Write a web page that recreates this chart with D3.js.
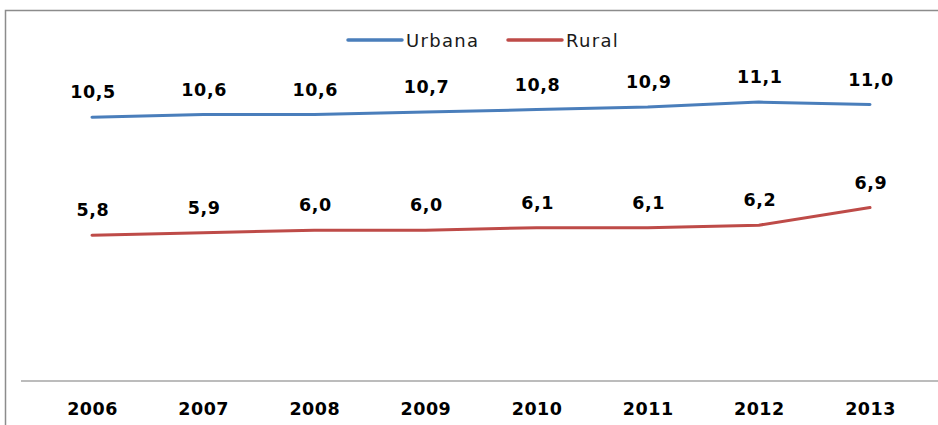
<!DOCTYPE html>
<html>
<head>
<meta charset="utf-8">
<script src="https://cdn.jsdelivr.net/npm/d3@7"></script>
<style>
  html, body { margin: 0; padding: 0; background: #fff; }
  svg { display: block; }
</style>
</head>
<body>
<svg id="chart" width="938" height="425"></svg>
<script>
const years = ["2006", "2007", "2008", "2009", "2010", "2011", "2012", "2013"];
const urbana = [10.5, 10.6, 10.6, 10.7, 10.8, 10.9, 11.1, 11.0];
const rural = [5.8, 5.9, 6.0, 6.0, 6.1, 6.1, 6.2, 6.9];
const seriesNames = ["Urbana", "Rural"];
const seriesColors = ["#4a7ebb", "#be4b48"];

const svg = d3.select("#chart");

// outer frame
svg.append("rect")
  .attr("x", 5.5).attr("y", 10.5)
  .attr("width", 1000).attr("height", 500)
  .attr("fill", "none").attr("stroke", "#8c8c8c").attr("stroke-width", 1.5);

const x = d3.scalePoint().domain(years).range([92, 870]);
const y = d3.scaleLinear().domain([0, 14]).range([381, 381 - 14 * 25.13]);

// x axis line
svg.append("line")
  .attr("x1", 21).attr("x2", 938)
  .attr("y1", 381).attr("y2", 381)
  .attr("stroke", "#a6a6a6").attr("stroke-width", 1.5);

// x axis via d3 axis (no ticks/domain)
const xAxis = svg.append("g")
  .attr("transform", "translate(0,381)")
  .call(d3.axisBottom(x).tickSize(0).tickPadding(34));
xAxis.select(".domain").remove();
xAxis.selectAll("text")
  .attr("dy", 0)
  .attr("fill", "#000")
  .style("font-family", "'DejaVu Sans', Verdana, sans-serif")
  .style("font-weight", "bold")
  .style("font-size", "17.5px")
  .style("letter-spacing", "0.5px");

const fmt = v => d3.format(".1f")(v).replace(".", ",");

const data = [urbana, rural];
const line = d3.line().x((d, i) => x(years[i])).y(d => y(d));

data.forEach((vals, si) => {
  svg.append("path")
    .datum(vals)
    .attr("d", line)
    .attr("fill", "none")
    .attr("stroke", seriesColors[si])
    .attr("stroke-width", 3)
    .attr("stroke-linecap", "round")
    .attr("stroke-linejoin", "round");

  svg.append("g").selectAll("text")
    .data(vals)
    .join("text")
    .attr("x", (d, i) => x(years[i]) + 1)
    .attr("y", d => y(d) - 19)
    .attr("text-anchor", "middle")
    .attr("fill", "#000")
    .style("font-family", "'DejaVu Sans', Verdana, sans-serif")
    .style("font-weight", "bold")
    .style("font-size", "17.5px")
    .style("letter-spacing", "0.6px")
    .text(d => fmt(d));
});

// legend
const legendX = [348, 508];
seriesNames.forEach((name, i) => {
  const g = svg.append("g").attr("transform", `translate(${legendX[i]},40)`);
  g.append("line")
    .attr("x1", 0).attr("x2", 54).attr("y1", 0).attr("y2", 0)
    .attr("stroke", seriesColors[i]).attr("stroke-width", 3.5)
    .attr("stroke-linecap", "round");
  g.append("text")
    .attr("x", 58).attr("y", 6.5)
    .attr("fill", "#1a1a1a")
    .style("font-family", "'DejaVu Sans', sans-serif")
    .style("font-size", "18px")
    .style("letter-spacing", "1.3px")
    .text(name);
});
</script>
</body>
</html>
